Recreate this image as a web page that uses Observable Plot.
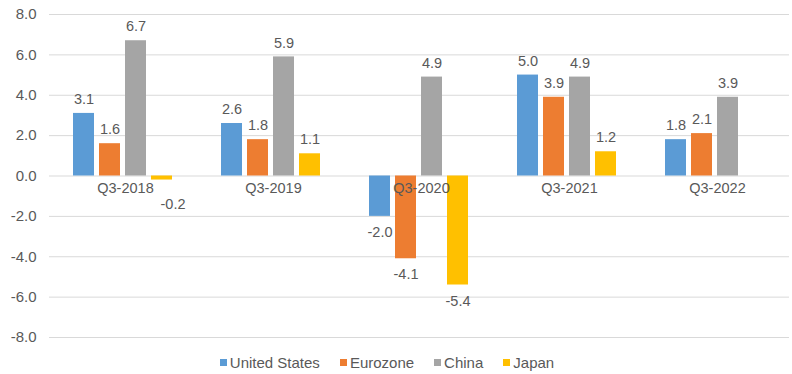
<!DOCTYPE html>
<html>
<head>
<meta charset="utf-8">
<script src="https://cdn.jsdelivr.net/npm/d3@7"></script>
<script src="https://cdn.jsdelivr.net/npm/@observablehq/plot@0.6"></script>
<style>
  html, body { margin: 0; padding: 0; background: #fff; }
  #chart { width: 792px; }
  .legend { display: flex; justify-content: center; align-items: center; gap: 20px; height: 24px;
    font-family: "Liberation Sans", Arial, sans-serif; font-size: 15px; color: #595959; margin-left: -18px; }
  .legend span.item { display: flex; align-items: center; }
  .legend span.sw { display: inline-block; width: 7px; height: 7px; margin-right: 3px; }
</style>
</head>
<body>
<div id="chart"></div>
<script>
const categories = ["Q3-2018", "Q3-2019", "Q3-2020", "Q3-2021", "Q3-2022"];
const series = ["United States", "Eurozone", "China", "Japan"];
const unitedStates = [3.1, 2.6, -2.0, 5.0, 1.8];
const eurozone = [1.6, 1.8, -4.1, 3.9, 2.1];
const china = [6.7, 5.9, 4.9, 4.9, 3.9];
const japan = [-0.2, 1.1, -5.4, 1.2, null];
const colors = ["#5B9BD5", "#ED7D31", "#A5A5A5", "#FFC000"];
const yTicks = [-8, -6, -4, -2, 0, 2, 4, 6, 8];

const valuesBySeries = [unitedStates, eurozone, china, japan];
const rows = [];
categories.forEach((c, i) => {
  series.forEach((s, j) => {
    const v = valuesBySeries[j][i];
    if (v != null) rows.push({category: c, series: s, value: v});
  });
});

const fmt = d => d.toFixed(1);
const font = '"Liberation Sans", Arial, sans-serif';
const labelColor = "#595959";

const plot = Plot.plot({
  width: 792,
  height: 350,
  marginTop: 14,
  marginBottom: 13,
  marginLeft: 48,
  marginRight: 2,
  style: {fontFamily: font, fontSize: "14px", color: labelColor, background: "#fff"},
  fx: {domain: categories, padding: 0, axis: null, label: null},
  x: {domain: series, paddingInner: 5 / 27, paddingOuter: 0.84, axis: null},
  y: {domain: [-8, 8], label: null},
  color: {domain: series, range: colors},
  marks: [
    Plot.gridY(yTicks, {stroke: "#d9d9d9", strokeOpacity: 1}),
    Plot.axisY(yTicks, {tickSize: 0, tickPadding: 13, tickFormat: fmt, fontSize: 15, fill: labelColor, label: null}),
    Plot.barY(rows, {fx: "category", x: "series", y: "value", fill: "series"}),
    Plot.text(rows.filter(d => d.value >= 0), {fx: "category", x: "series", y: "value", text: d => fmt(d.value), dy: -14, fill: labelColor, fontSize: 14.5}),
    Plot.text(rows.filter(d => d.value <= -1), {fx: "category", x: "series", y: "value", text: d => fmt(d.value), dy: 16, fill: labelColor, fontSize: 14.5}),
    Plot.text(rows.filter(d => d.value < 0 && d.value > -1), {fx: "category", x: "series", y: "value", text: d => fmt(d.value), dx: 11, dy: 24, fill: labelColor, fontSize: 14.5}),
    Plot.text(categories, {fx: d => d, y: d => 0, text: d => d, dx: 2, dy: 12, fill: labelColor, fontSize: 14.5})
  ]
});
document.getElementById("chart").appendChild(plot);

const legend = document.createElement("div");
legend.className = "legend";
series.forEach((s, i) => {
  const item = document.createElement("span");
  item.className = "item";
  const sw = document.createElement("span");
  sw.className = "sw";
  sw.style.background = colors[i];
  item.appendChild(sw);
  item.appendChild(document.createTextNode(s));
  legend.appendChild(item);
});
document.getElementById("chart").appendChild(legend);
</script>
</body>
</html>
